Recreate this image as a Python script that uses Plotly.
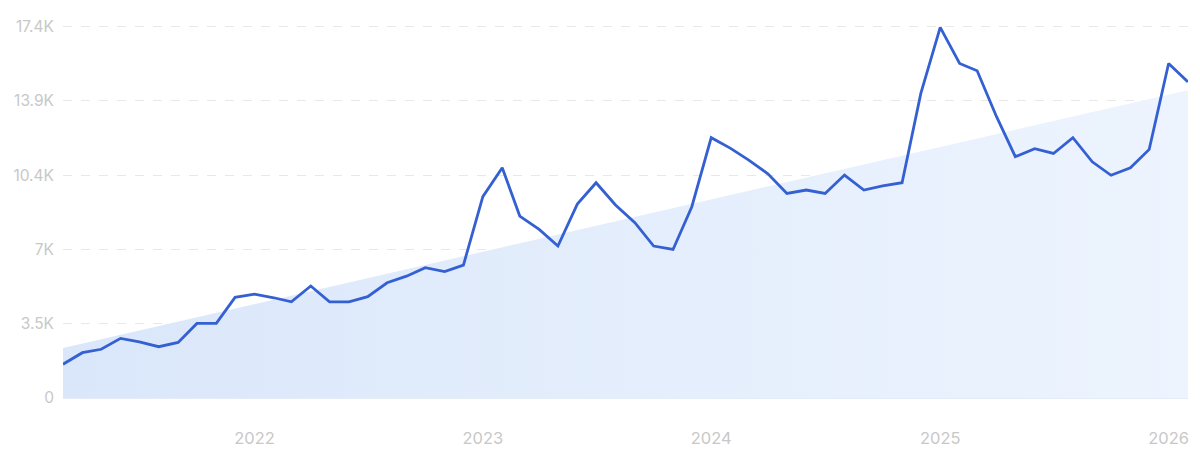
import plotly.graph_objects as go
import pandas as pd

months = pd.date_range("2021-03-01", "2026-02-01", freq="MS").strftime("%Y-%m-%d").tolist()
volume = [1580, 2120, 2280, 2790, 2630, 2400, 2600, 3490, 3490, 4710,
          4860, 4690, 4500, 5240, 4500, 4500, 4740, 5390, 5700, 6100,
          5910, 6220, 9420, 10770, 8510, 7890, 7110, 9070, 10070, 9030,
          8200, 7110, 6950, 8950, 12180, 11680, 11130, 10480, 9570, 9730,
          9570, 10430, 9730, 9920, 10070, 14250, 17340, 15650, 15310, 13160,
          11290, 11660, 11440, 12180, 11050, 10420, 10770, 11630, 15650, 14790]
trend_start = 2340
trend_end = 14400
trend_x = [months[0], months[-1]]
trend_y = [trend_start, trend_end]

y_tickvals = [0, 3500, 6950, 10400, 13900, 17400]
y_ticktext = ["0", "3.5K", "7K", "10.4K", "13.9K", "17.4K"]
x_tickvals = ["2022-01-01", "2023-01-01", "2024-01-01", "2025-01-01", "2026-01-01"]
x_ticktext = ["2022", "2023", "2024", "2025", "2026"]

fig = go.Figure()
fig.add_trace(go.Scatter(
    x=trend_x, y=trend_y, mode="lines", line=dict(width=0),
    fill="tozeroy",
    fillgradient=dict(type="horizontal",
                      colorscale=[[0, "rgba(218,231,250,1)"], [1, "rgba(237,244,254,1)"]]),
    hoverinfo="skip", showlegend=False,
))
fig.add_trace(go.Scatter(
    x=months, y=volume, mode="lines",
    line=dict(color="#3460d2", width=2.8),
    showlegend=False,
))

fig.update_layout(
    width=1200, height=464,
    margin=dict(l=63, r=12, t=25, b=66),
    paper_bgcolor="white", plot_bgcolor="white",
    font=dict(family="Inter, Roboto, sans-serif", color="#c8c8c8"),
    xaxis=dict(
        range=[months[0], months[-1]], tickvals=x_tickvals, ticktext=x_ticktext,
        showgrid=False, zeroline=False, showline=True, linecolor="#e4ecf8", linewidth=1,
        ticks="", ticklabelstandoff=25, tickfont=dict(size=16.5, color="#c8c8c8"),
    ),
    yaxis=dict(
        range=[0, 17450], tickvals=y_tickvals, ticktext=y_ticktext,
        showgrid=True, gridcolor="#e8e8e8", griddash="dash", gridwidth=1,
        zeroline=False, ticks="", ticklabelstandoff=8,
        tickfont=dict(size=15.5, color="#c8c8c8"),
    ),
)
fig.write_html("out.html", config={"displayModeBar": False},
               post_script="document.body.style.margin='0';")
